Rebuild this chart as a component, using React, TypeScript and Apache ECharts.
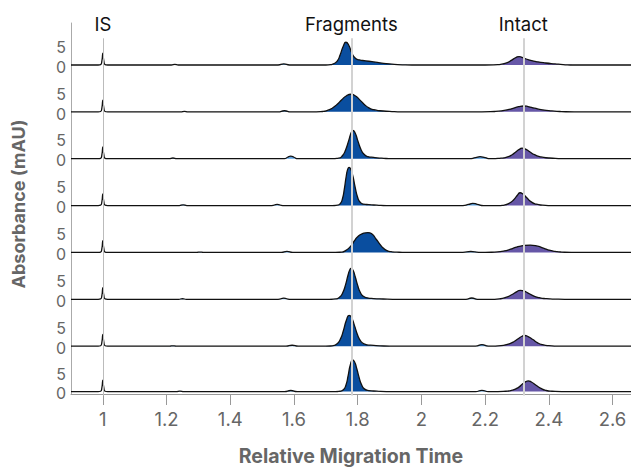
import React, { useEffect, useRef } from "react";
import * as echarts from "echarts";

// ---------- data ----------
const xTicks = [1, 1.2, 1.4, 1.6, 1.8, 2, 2.2, 2.4, 2.6];
const yTicks = [0, 5];
const markerPositions = [1, 1.779, 2.318];
const markerLabels = ["IS", "Fragments", "Intact"];

// internal standard spike (same in every run)
const isPeak: number[][] = [
  [0.985, 0], [0.993, 0.1], [0.997, 1.1], [1.0, 3.2], [1.003, 1.1], [1.007, 0.1], [1.015, 0],
];

// small unlabelled bumps per run
const minorPeaks: number[][][] = [
  [[1.215, 0], [1.226, 0.15], [1.237, 0], [1.55, 0], [1.568, 0.3], [1.586, 0]],
  [[1.245, 0], [1.256, 0.12], [1.267, 0], [1.55, 0], [1.57, 0.3], [1.59, 0]],
  [[1.208, 0], [1.22, 0.2], [1.232, 0], [1.57, 0], [1.58, 0.4], [1.59, 0.7], [1.6, 0.4], [1.612, 0],
   [2.15, 0], [2.17, 0.3], [2.184, 0.55], [2.2, 0.3], [2.215, 0]],
  [[1.24, 0], [1.252, 0.2], [1.264, 0], [1.53, 0], [1.547, 0.3], [1.565, 0],
   [2.13, 0], [2.148, 0.3], [2.161, 0.6], [2.175, 0.35], [2.195, 0]],
  [[1.295, 0], [1.305, 0.1], [1.315, 0], [1.56, 0], [1.578, 0.3], [1.596, 0],
   [2.13, 0], [2.155, 0.25], [2.18, 0]],
  [[1.238, 0], [1.25, 0.15], [1.262, 0], [1.55, 0], [1.568, 0.3], [1.586, 0],
   [2.14, 0], [2.158, 0.35], [2.176, 0]],
  [[1.21, 0], [1.22, 0.1], [1.23, 0], [1.575, 0], [1.594, 0.25], [1.613, 0],
   [2.17, 0], [2.19, 0.4], [2.21, 0]],
  [[1.23, 0], [1.242, 0.15], [1.254, 0], [1.57, 0], [1.59, 0.3], [1.61, 0],
   [2.17, 0], [2.19, 0.35], [2.21, 0]],
];

// fragments peak per run
const fragmentPeaks: number[][][] = [
  [[1.70, 0], [1.72, 0.2], [1.735, 1.0], [1.745, 2.8], [1.755, 5.2], [1.763, 6.2], [1.772, 5.4],
   [1.782, 3.2], [1.792, 1.9], [1.805, 1.4], [1.825, 1.15], [1.845, 0.9], [1.87, 0.6], [1.9, 0.3],
   [1.94, 0.05], [1.97, 0]],
  [[1.67, 0], [1.69, 0.1], [1.705, 0.4], [1.72, 1.0], [1.735, 2.0], [1.75, 3.3], [1.765, 4.4],
   [1.779, 4.8], [1.792, 4.4], [1.805, 3.4], [1.82, 2.1], [1.835, 1.1], [1.85, 0.6], [1.87, 0.3],
   [1.9, 0.12], [1.94, 0]],
  [[1.72, 0], [1.74, 0.15], [1.752, 0.8], [1.762, 2.4], [1.772, 5.0], [1.78, 7.2], [1.785, 7.7],
   [1.792, 7.0], [1.8, 5.0], [1.81, 2.6], [1.82, 1.2], [1.832, 0.6], [1.85, 0.35], [1.875, 0.15],
   [1.91, 0]],
  [[1.72, 0], [1.737, 0.1], [1.745, 0.5], [1.752, 1.8], [1.758, 4.5], [1.764, 8.0], [1.769, 10.0],
   [1.773, 10.4], [1.778, 10.0], [1.785, 8.0], [1.792, 5.0], [1.8, 2.2], [1.808, 0.9], [1.818, 0.4],
   [1.835, 0.25], [1.86, 0.12], [1.89, 0]],
  [[1.73, 0], [1.75, 0.1], [1.762, 0.5], [1.779, 1.8], [1.79, 3.2], [1.8, 4.3], [1.815, 5.1],
   [1.832, 5.4], [1.845, 5.0], [1.858, 3.6], [1.87, 2.2], [1.88, 1.2], [1.892, 0.5], [1.905, 0.2],
   [1.93, 0.05], [1.96, 0]],
  [[1.71, 0], [1.73, 0.1], [1.742, 0.5], [1.752, 1.6], [1.762, 4.0], [1.77, 6.7], [1.775, 8.0],
   [1.779, 8.4], [1.785, 8.0], [1.792, 6.2], [1.8, 3.8], [1.808, 1.9], [1.818, 0.8], [1.83, 0.4],
   [1.85, 0.2], [1.88, 0.08], [1.91, 0]],
  [[1.70, 0], [1.72, 0.1], [1.733, 0.5], [1.745, 1.8], [1.755, 4.2], [1.765, 7.2], [1.773, 8.4],
   [1.78, 7.9], [1.79, 5.6], [1.8, 3.0], [1.81, 1.3], [1.822, 0.55], [1.84, 0.25], [1.87, 0.1],
   [1.9, 0]],
  [[1.73, 0], [1.745, 0.1], [1.755, 0.5], [1.763, 1.8], [1.77, 4.5], [1.777, 7.6], [1.784, 8.9],
   [1.79, 8.4], [1.797, 6.5], [1.805, 3.8], [1.813, 1.8], [1.822, 0.7], [1.835, 0.3], [1.86, 0.12],
   [1.89, 0]],
];

// intact peak per run
const intactPeaks: number[][][] = [
  [[2.2, 0], [2.24, 0.1], [2.265, 0.5], [2.285, 1.4], [2.298, 2.1], [2.307, 2.3], [2.318, 2.0],
   [2.337, 1.4], [2.36, 0.95], [2.39, 0.55], [2.42, 0.3], [2.445, 0.12], [2.48, 0]],
  [[2.19, 0], [2.23, 0.1], [2.26, 0.4], [2.285, 0.9], [2.305, 1.4], [2.32, 1.6], [2.335, 1.45],
   [2.355, 1.0], [2.38, 0.55], [2.41, 0.25], [2.44, 0.08], [2.48, 0]],
  [[2.22, 0], [2.25, 0.15], [2.27, 0.5], [2.285, 1.1], [2.3, 2.1], [2.31, 2.7], [2.316, 2.9],
   [2.325, 2.7], [2.34, 1.9], [2.355, 1.1], [2.375, 0.5], [2.4, 0.2], [2.43, 0.05], [2.46, 0]],
  [[2.24, 0], [2.26, 0.15], [2.275, 0.6], [2.29, 1.6], [2.302, 2.9], [2.31, 3.5], [2.318, 3.2],
   [2.33, 2.2], [2.345, 1.0], [2.36, 0.4], [2.38, 0.12], [2.41, 0]],
  [[2.2, 0], [2.23, 0.1], [2.26, 0.4], [2.28, 0.9], [2.295, 1.35], [2.315, 1.8], [2.342, 2.0],
   [2.365, 1.7], [2.385, 1.1], [2.4, 0.65], [2.42, 0.3], [2.44, 0.1], [2.47, 0]],
  [[2.22, 0], [2.245, 0.12], [2.265, 0.5], [2.285, 1.3], [2.3, 2.1], [2.31, 2.45], [2.32, 2.3],
   [2.335, 1.7], [2.35, 1.0], [2.37, 0.45], [2.39, 0.18], [2.42, 0.04], [2.45, 0]],
  [[2.22, 0], [2.25, 0.12], [2.27, 0.5], [2.29, 1.2], [2.305, 2.1], [2.316, 2.7], [2.324, 2.9],
   [2.335, 2.6], [2.35, 1.8], [2.365, 0.9], [2.38, 0.4], [2.4, 0.12], [2.43, 0]],
  [[2.24, 0], [2.265, 0.1], [2.285, 0.4], [2.305, 1.2], [2.318, 2.2], [2.328, 2.8], [2.335, 3.0],
   [2.345, 2.7], [2.36, 1.8], [2.375, 0.9], [2.39, 0.35], [2.41, 0.1], [2.44, 0]],
];

const X_MIN = 0.9;
const X_MAX = 2.658;

// ---------- layout ----------
const LEFT = 71;
const AXIS_TOP = 23;
const FIRST_BASE = 65;
const LAST_BASE = 393;
const N = fragmentPeaks.length;
const PANEL_H = (LAST_BASE - FIRST_BASE) / (N - 1);
const Y_MIN = -0.68;
const Y_MAX = 12.1;
const PX_PER_UNIT = PANEL_H / (Y_MAX - Y_MIN);
// the reference prints its "0" label slightly below the baseline
const ZERO_LABEL_SHIFT = -0.45;

const FONT = "Inter, 'Noto Sans', sans-serif";
const FRAG_COLOR = "#0a4e9f";
const INTACT_COLOR = "#6657a7";
const MINOR_COLOR = "#5b9fde";

function buildOption() {
  const grids: any[] = [];
  const xAxes: any[] = [];
  const yAxes: any[] = [];
  const series: any[] = [];

  for (let i = 0; i < N; i++) {
    const base = FIRST_BASE + i * PANEL_H;
    const bottom = base + (-Y_MIN) * PX_PER_UNIT;
    const top = i === 0 ? AXIS_TOP : base - Y_MAX * PX_PER_UNIT;
    const yMax = i === 0 ? (base - AXIS_TOP) / PX_PER_UNIT : Y_MAX;
    grids.push({ left: LEFT, right: 0, top, height: bottom - top });
    const isLast = i === N - 1;
    xAxes.push({
      gridIndex: i,
      type: "value",
      min: X_MIN,
      max: X_MAX,
      show: isLast,
      splitLine: { show: false },
      axisLine: { show: true, onZero: false, lineStyle: { color: "#999", width: 1 } },
      axisTick: { show: true, customValues: xTicks, length: 11, lineStyle: { color: "#999" } },
      axisLabel: {
        customValues: xTicks,
        fontSize: 18.5,
        color: "#666",
        fontFamily: FONT,
        margin: 15,
        showMinLabel: true,
        showMaxLabel: true,
      },
      name: isLast ? "Relative Migration Time" : "",
      nameLocation: "middle",
      nameGap: 52,
      nameTextStyle: { fontSize: 19.5, fontWeight: "bold", color: "#666", fontFamily: FONT },
    });
    yAxes.push({
      gridIndex: i,
      type: "value",
      min: Y_MIN,
      max: yMax,
      splitLine: { show: false },
      axisLine: { show: true, lineStyle: { color: "#aaa", width: 1 } },
      axisTick: { show: false },
      axisLabel: {
        customValues: yTicks.map((v) => (v === 0 ? v + ZERO_LABEL_SHIFT : v)),
        formatter: (v: number) => String(Math.abs(Math.round(v))),
        fontSize: 16,
        color: "#666",
        fontFamily: FONT,
        margin: 5,
        showMinLabel: true,
        showMaxLabel: true,
      },
    });

    const trace = [[X_MIN, 0], ...isPeak, ...minorPeaks[i], ...fragmentPeaks[i], ...intactPeaks[i], [X_MAX, 0]]
      .slice()
      .sort((a, b) => a[0] - b[0]);

    const common = {
      type: "line",
      xAxisIndex: i,
      yAxisIndex: i,
      showSymbol: false,
      symbol: "none",
      smooth: 0.6,
      silent: true,
    };
    series.push({
      ...common,
      data: minorPeaks[i],
      lineStyle: { width: 0 },
      areaStyle: { color: MINOR_COLOR, opacity: 1, origin: "auto" },
    });
    series.push({
      ...common,
      data: fragmentPeaks[i],
      lineStyle: { width: 0 },
      areaStyle: { color: FRAG_COLOR, opacity: 1, origin: "auto" },
    });
    series.push({
      ...common,
      data: intactPeaks[i],
      lineStyle: { width: 0 },
      areaStyle: { color: INTACT_COLOR, opacity: 1, origin: "auto" },
    });
    series.push({
      ...common,
      data: trace,
      lineStyle: { color: "#111", width: 1.3 },
    });
  }

  // overlay for marker lines
  const ovTop = 38.3;
  const ovBottom = LAST_BASE + (-Y_MIN) * PX_PER_UNIT;
  grids.push({ left: LEFT, right: 0, top: ovTop, height: ovBottom - ovTop });
  xAxes.push({ gridIndex: N, type: "value", min: X_MIN, max: X_MAX, show: false });
  yAxes.push({ gridIndex: N, type: "value", min: 0, max: 1, show: false });
  series.push({
    type: "line",
    xAxisIndex: N,
    yAxisIndex: N,
    data: [],
    silent: true,
    markLine: {
      silent: true,
      symbol: "none",
      z: 20,
      animation: false,
      label: {
        show: true,
        position: "end",
        formatter: "{b}",
        fontSize: 18.5,
        color: "#111",
        fontFamily: FONT,
        distance: 5,
      },
      data: markerPositions.map((x, k) => ({
        xAxis: x,
        name: markerLabels[k],
        lineStyle: { color: k === 0 ? "#bbb" : "#d2d2d2", width: k === 0 ? 1 : 2, type: "solid" },
      })),
    },
  });

  return {
    animation: false,
    grid: grids,
    xAxis: xAxes,
    yAxis: yAxes,
    series,
    graphic: [
      {
        type: "text",
        x: 18.5,
        y: 204,
        rotation: Math.PI / 2,
        style: {
          text: "Absorbance (mAU)",
          fontSize: 18,
          fontWeight: "bold",
          fontFamily: FONT,
          fill: "#666",
          textAlign: "center",
          textVerticalAlign: "middle",
        },
      },
    ],
  };
}

export default function App() {
  const ref = useRef<HTMLDivElement>(null);
  useEffect(() => {
    if (!ref.current) return;
    const chart = echarts.init(ref.current, undefined, { renderer: "svg" });
    chart.setOption(buildOption() as any);
    return () => chart.dispose();
  }, []);
  return (
    <div
      ref={ref}
      style={{ position: "absolute", left: 0, top: 0, width: 631, height: 467, background: "#fff" }}
    />
  );
}
